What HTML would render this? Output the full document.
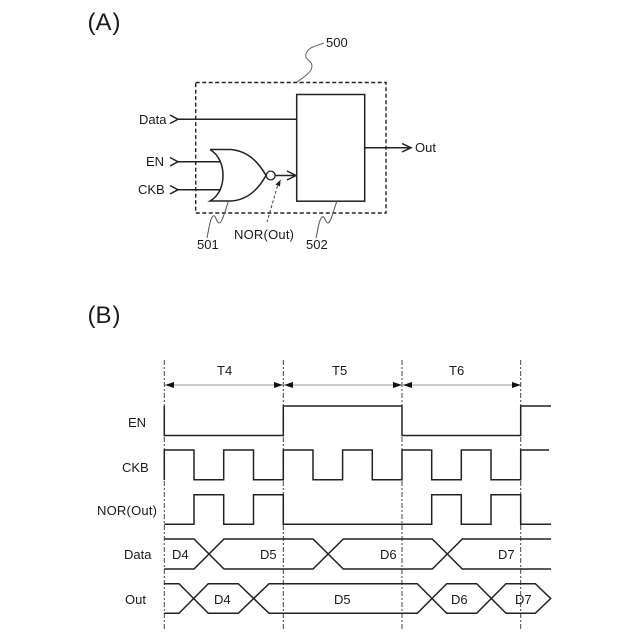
<!DOCTYPE html>
<html><head><meta charset="utf-8">
<style>
html,body{margin:0;padding:0;background:#fff}
svg{display:block}
text{font-family:"Liberation Sans","Noto Sans CJK JP",sans-serif;fill:#1a1a1a;font-size:13px}
.t{fill:none;stroke:#222;stroke-width:1.5}
.v{stroke:#444;stroke-width:1;stroke-dasharray:5 2 2 2;fill:none}
</style></head><body>
<svg width="640" height="640" viewBox="0 0 640 640" xmlns="http://www.w3.org/2000/svg">
<text x="87.5" y="30" style="font-size:24px">(</text>
<text x="95.5" y="30" style="font-size:24px">A</text>
<text x="112.5" y="30" style="font-size:24px">)</text>
<text x="87.5" y="323" style="font-size:24px">(</text>
<text x="95.5" y="323" style="font-size:24px">B</text>
<text x="112.5" y="323" style="font-size:24px">)</text>

<!-- Part A -->
<rect x="195.7" y="82.5" width="190.3" height="130.5" fill="none" stroke="#222" stroke-width="1.4" stroke-dasharray="4 2.5"/>
<rect x="296.7" y="94.5" width="68" height="106.7" fill="#fff" stroke="#222" stroke-width="1.5"/>
<path class="t" d="M170 115 L178 119.3 L170 123.5 M178 119.3 H296.7"/>
<path class="t" d="M170 157.5 L178 161.7 L170 166 M178 161.7 H221"/>
<path class="t" d="M170 185.5 L178 189.7 L170 194 M178 189.7 H221"/>
<path class="t" d="M210 149.5 C219 155 223 165 223 175.5 C223 186 219 196 210 201 H231 C247 200 258 190 266 175.5 C258 161 247 151 231 149.5 H210"/>
<circle cx="270.7" cy="175.5" r="4.4" fill="#fff" stroke="#222" stroke-width="1.3"/>
<path class="t" d="M275 175.5 H296 M287 171 L296 175.5 L287 180"/>
<path class="t" d="M364.7 147.7 H411 M402 143.5 L411 147.7 L402 152"/>
<path d="M297 82 C304 77 312 72 312 66 C312 60 304 60 306 54 C308 47 316 46 324 43" fill="none" stroke="#666" stroke-width="1"/>
<path d="M228.500 201 C226 208 222 223 219.500 223 C216 223 216 214 213 216 C210 219 209 228 207 238" fill="none" stroke="#555" stroke-width="1"/>
<path d="M337 201 C334 208 331 223 328 223 C325 223 325 215 322 217 C319 220 318 229 316 238" fill="none" stroke="#555" stroke-width="1"/>
<path d="M277.500 186 L267 222" fill="none" stroke="#444" stroke-width="1" stroke-dasharray="3 2"/>
<path d="M280.700 179.500 L275.500 184.500 L280 186.500 Z" fill="#222"/>
<text x="326" y="47">500</text>
<text x="139" y="124">Data</text>
<text x="146" y="166">EN</text>
<text x="138" y="194">CKB</text>
<text x="415" y="152">Out</text>
<text x="197" y="249">501</text>
<text x="234" y="239" textLength="60" lengthAdjust="spacing">NOR(Out)</text>
<text x="306" y="249">502</text>

<!-- Part B -->
<g class="v">
<path d="M164.3 360V630"/><path d="M283.3 360V630"/><path d="M402 360V630"/><path d="M520.7 360V630"/>
</g>
<path d="M165 385H520" stroke="#999" stroke-width="1" fill="none"/>
<g fill="#111">
<path d="M165 385l9-3v6z"/><path d="M283 385l-9-3v6z"/>
<path d="M284 385l9-3v6z"/><path d="M402 385l-9-3v6z"/>
<path d="M403 385l9-3v6z"/><path d="M521 385l-9-3v6z"/>
</g>
<text x="217" y="375">T4</text>
<text x="332" y="375">T5</text>
<text x="449" y="375">T6</text>

<path class="t" d="M164.3 406V435.5H283.3V406H402V435.5H520.7V406H551"/>
<path class="t" d="M164.3 480V450H194V479.7H223.7V450H253.5V479.7H283.3V450H313V479.7H342.6V450H372.3V479.7H402V450H431.7V479.7H461.3V450H491V479.7H520.7V450H549"/>
<path class="t" d="M164.3 524.3H194V494.7H223.7V524.3H253.5V494.7H283.3V524.3H431.7V494.7H461.3V524.3H491V494.7H520.7V524.3H551"/>
<path class="t" d="M164.3 539H194L224 569H313L343.3 539H432.3L462.3 569H551"/>
<path class="t" d="M164.3 569H194L224 539H313L343.3 569H432.3L462.3 539H551"/>
<path class="t" d="M164.3 583.7H179L208.3 613.3H238.3L269 583.7H417.3L446.7 613.3H476.7L506 583.7H535.3L550.7 598.5L535.3 613.3H506L476.7 583.7H446.7L417.3 613.3H269L238.3 583.7H208.3L179 613.3H164.3"/>

<text x="128" y="427">EN</text>
<text x="122" y="472">CKB</text>
<text x="97" y="515" textLength="60" lengthAdjust="spacing">NOR(Out)</text>
<text x="124" y="559">Data</text>
<text x="125" y="604">Out</text>
<text x="172" y="559">D4</text>
<text x="260" y="559">D5</text>
<text x="380" y="559">D6</text>
<text x="498" y="559">D7</text>
<text x="214" y="604">D4</text>
<text x="334" y="604">D5</text>
<text x="451" y="604">D6</text>
<text x="515" y="604">D7</text>
</svg>
</body></html>
